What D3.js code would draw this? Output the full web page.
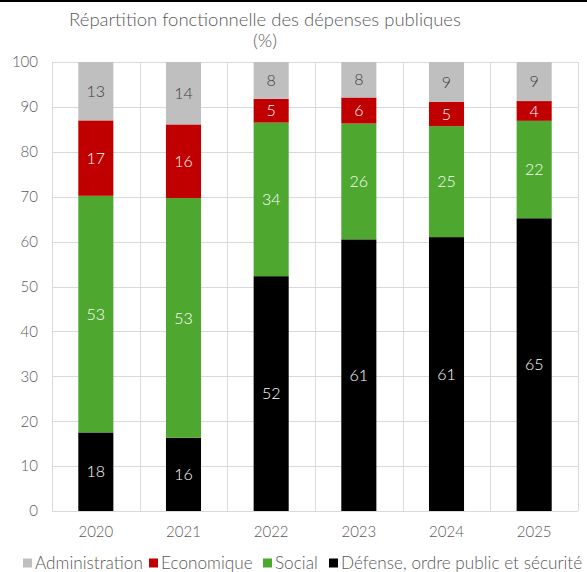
<!DOCTYPE html>
<html>
<head>
<meta charset="utf-8">
<script src="https://cdn.jsdelivr.net/npm/d3@7"></script>
<style>
  body { margin: 0; background: #fff; }
</style>
</head>
<body>
<div id="chart"></div>
<script>
const years = ["2020", "2021", "2022", "2023", "2024", "2025"];
const defense = [17.5, 16.3, 52.3, 60.5, 61.0, 65.2];
const social = [52.7, 53.4, 34.2, 25.8, 24.7, 21.7];
const economique = [16.8, 16.4, 5.3, 5.8, 5.4, 4.4];
const administration = [13.0, 13.9, 8.2, 7.9, 8.9, 8.7];
const yTicks = [0, 10, 20, 30, 40, 50, 60, 70, 80, 90, 100];

const series = [
    { key: "defense", name: "Défense, ordre public et sécurité", color: "#000000", label: "#ffffff", values: defense },
    { key: "social", name: "Social", color: "#4ea72e", label: "#ffffff", values: social },
    { key: "economique", name: "Economique", color: "#c00000", label: "#ffffff", values: economique },
    { key: "administration", name: "Administration", color: "#bfbfbf", label: "#404040", values: administration }
];

const width = 587, height = 572;
const margin = { top: 62, right: 9, bottom: 61, left: 52 };
const font = "Lato, 'DejaVu Sans', sans-serif";

const rows = years.map((y, i) => {
    const r = { year: y };
    series.forEach(s => r[s.key] = s.values[i]);
    return r;
});

const stacked = d3.stack().keys(series.map(s => s.key))(rows);

const x = d3.scaleBand()
    .domain(years)
    .range([margin.left, width - margin.right])
    .paddingInner(0.6)
    .paddingOuter(0.3);

const y = d3.scaleLinear()
    .domain([0, 100])
    .range([height - margin.bottom, margin.top]);

const svg = d3.select("#chart").append("svg")
    .attr("width", width)
    .attr("height", height)
    .attr("font-family", font)
    .attr("font-weight", 300);

// bord du haut
svg.append("rect")
    .attr("x", 0).attr("y", 0)
    .attr("width", width).attr("height", 2)
    .attr("fill", "#000");

// titre
svg.append("text")
    .attr("x", 265).attr("y", 26)
    .attr("text-anchor", "middle")
    .attr("font-size", 18.5)
    .attr("fill", "#595959")
    .text("Répartition fonctionnelle des dépenses publiques");
svg.append("text")
    .attr("x", 265).attr("y", 47)
    .attr("text-anchor", "middle")
    .attr("font-size", 18.5)
    .attr("fill", "#595959")
    .text("(%)");

// grille
const grid = svg.append("g").attr("stroke", "#d9d9d9").attr("stroke-width", 1);
grid.selectAll("line.h")
    .data(yTicks)
    .join("line")
    .attr("x1", margin.left).attr("x2", width - margin.right)
    .attr("y1", d => Math.round(y(d)) + 0.5).attr("y2", d => Math.round(y(d)) + 0.5);

const bounds = d3.range(years.length + 1).map(i => margin.left + i * (width - margin.left - margin.right) / years.length);
grid.selectAll("line.v")
    .data(bounds)
    .join("line")
    .attr("x1", d => Math.round(d) + 0.5).attr("x2", d => Math.round(d) + 0.5)
    .attr("y1", y(100)).attr("y2", y(0));

// axe y
svg.append("g")
    .attr("transform", `translate(${margin.left},0)`)
    .call(d3.axisLeft(y).tickValues(yTicks).tickSize(0).tickPadding(14))
    .call(g => g.select(".domain").remove())
    .call(g => g.selectAll("text")
        .attr("font-family", font)
        .attr("font-size", 15)
        .attr("fill", "#595959"));

// axe x
svg.append("g")
    .attr("transform", `translate(0,${height - margin.bottom})`)
    .call(d3.axisBottom(x).tickSize(0).tickPadding(15))
    .call(g => g.select(".domain").remove())
    .call(g => g.selectAll("text")
        .attr("font-family", font)
        .attr("font-size", 15)
        .attr("fill", "#595959"));

// barres
const layer = svg.append("g")
    .selectAll("g")
    .data(stacked)
    .join("g")
    .attr("fill", (d, i) => series[i].color);

layer.selectAll("rect")
    .data(d => d)
    .join("rect")
    .attr("x", d => x(d.data.year))
    .attr("y", d => y(d[1]))
    .attr("height", d => y(d[0]) - y(d[1]))
    .attr("width", x.bandwidth());

// étiquettes
const fmt = d3.format(".0f");
svg.append("g")
    .attr("font-size", 16)
    .attr("text-anchor", "middle")
    .selectAll("g")
    .data(stacked)
    .join("g")
    .attr("fill", (d, i) => series[i].label)
    .selectAll("text")
    .data(d => d)
    .join("text")
    .attr("x", d => x(d.data.year) + x.bandwidth() / 2)
    .attr("y", d => y((d[0] + d[1]) / 2))
    .attr("dy", "0.35em")
    .text(d => fmt(d[1] - d[0]));

// légende
const legendOrder = [3, 2, 1, 0].map(i => series[i]);
const legendX = [23, 149, 263, 329];
const legend = svg.append("g")
    .selectAll("g")
    .data(legendOrder)
    .join("g")
    .attr("transform", (d, i) => `translate(${legendX[i]},563)`);
legend.append("rect")
    .attr("x", 0).attr("y", -4.5)
    .attr("width", 9).attr("height", 9)
    .attr("fill", d => d.color);
legend.append("text")
    .attr("x", 12).attr("dy", "0.35em")
    .attr("font-size", 17.2)
    .attr("fill", "#595959")
    .text(d => d.name);
</script>
</body>
</html>
